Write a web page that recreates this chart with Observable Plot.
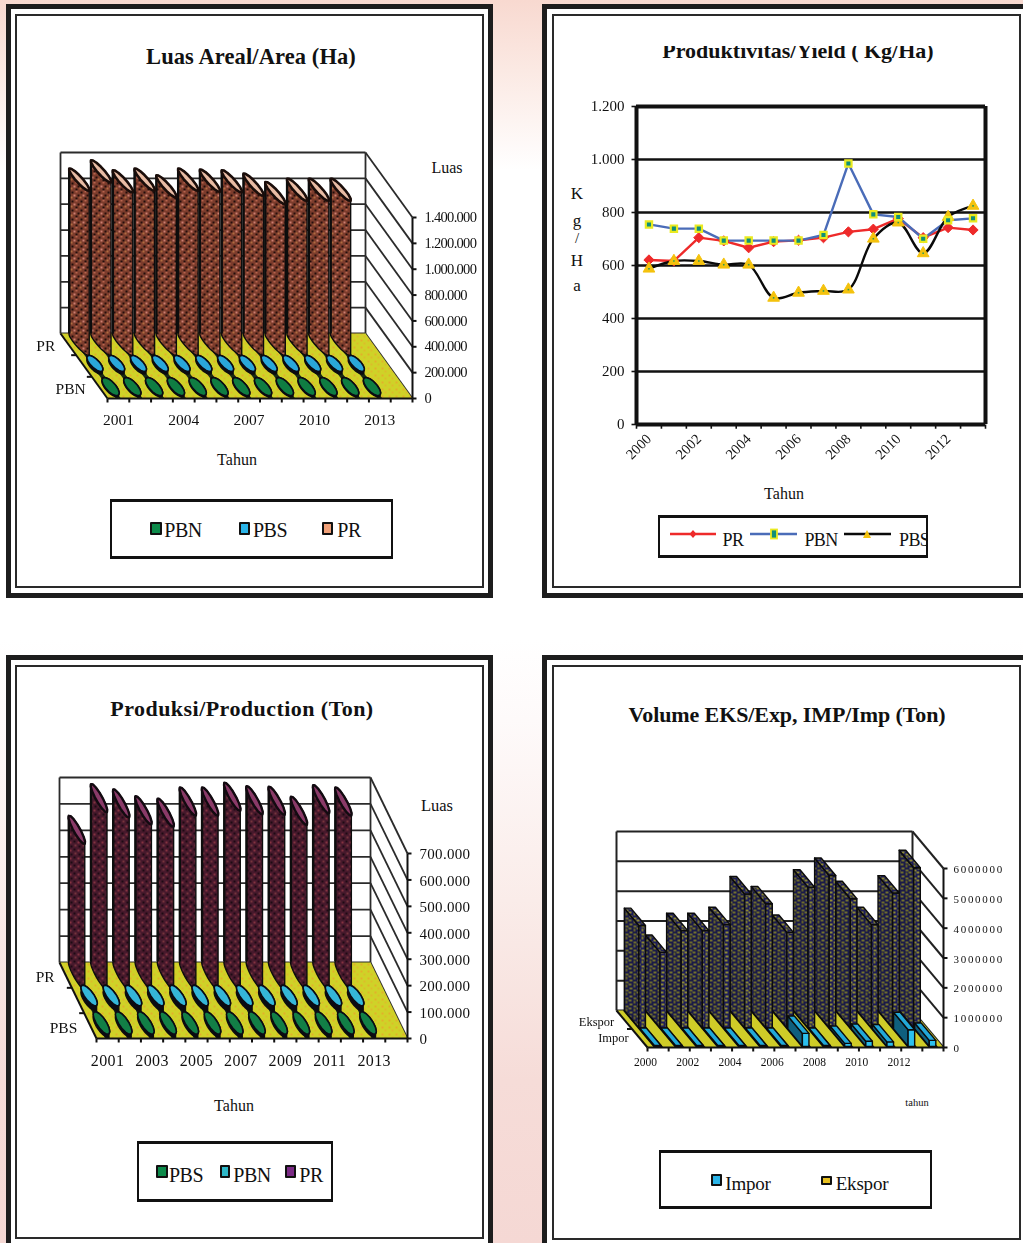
<!DOCTYPE html>
<html><head><meta charset="utf-8">
<script src="https://cdn.jsdelivr.net/npm/d3@7"></script>
<script src="https://cdn.jsdelivr.net/npm/@observablehq/plot@0.6"></script>
<style>
html,body{margin:0;padding:0}
body{position:relative;width:1023px;height:1243px;overflow:hidden;font-family:"Liberation Serif",serif;color:#111;
background:linear-gradient(180deg,#f8d9d0 0,#fbe9e3 70px,#ffffff 170px,#ffffff 640px,#fefafa 720px,#faece9 900px,#f6dcd8 1080px,#f5d8d4 1243px)}
.frame{position:absolute;box-sizing:border-box;background:#fff;border:5px solid #1d1d1d}
.inner{position:absolute;box-sizing:border-box;border:2px solid #2a2a2a}
.t{position:absolute;white-space:pre;transform:translate(-50%,-50%);line-height:1}
.box{position:absolute;box-sizing:border-box;border:2px solid #111;border-top-width:3px;border-bottom-width:3px;background:#fff}
.sw{position:absolute;box-sizing:border-box;border:2.5px solid #111;border-radius:1px}
.hold{position:absolute}
.hold svg{display:block}
.soft svg{filter:blur(.45px)}
</style></head><body>
<svg width="0" height="0" style="position:absolute"><defs>
<pattern id="brown" width="9" height="9" patternUnits="userSpaceOnUse"><rect width="9" height="9" fill="#7c3c2c"/><rect x="1" y="1" width="2" height="2" fill="#220e0c"/><rect x="5" y="0" width="2" height="2" fill="#b8644e"/><rect x="3" y="4" width="2" height="2" fill="#cc7e70"/><rect x="7" y="4" width="2" height="2" fill="#260f0c"/><rect x="0" y="6" width="2" height="2" fill="#b06c40"/><rect x="5" y="7" width="2" height="2" fill="#220e0c"/></pattern>
<pattern id="maroon" width="8" height="8" patternUnits="userSpaceOnUse"><rect width="8" height="8" fill="#47192c"/><rect x="1" y="0" width="2" height="2" fill="#1d0a14"/><rect x="5" y="1" width="2" height="2" fill="#843240"/><rect x="2" y="4" width="2" height="2" fill="#76343c"/><rect x="6" y="5" width="2" height="2" fill="#1d0a14"/></pattern>
<pattern id="navyolive" width="8" height="8" patternUnits="userSpaceOnUse"><rect width="8" height="8" fill="#1c1c58"/><rect x="0" y="0" width="3" height="2" fill="#8c8832"/><rect x="5" y="1" width="2" height="3" fill="#7a7830"/><rect x="1" y="4" width="3" height="2" fill="#908c34"/><rect x="5" y="6" width="3" height="2" fill="#8c8832"/></pattern>
<pattern id="navydark" width="8" height="8" patternUnits="userSpaceOnUse"><rect width="8" height="8" fill="#1a1a48"/><rect x="0" y="0" width="3" height="2" fill="#6e6c2c"/><rect x="5" y="1" width="2" height="3" fill="#625f28"/><rect x="1" y="4" width="3" height="2" fill="#74722e"/><rect x="5" y="6" width="3" height="2" fill="#6e6c2c"/></pattern>
<pattern id="floor" width="7" height="7" patternUnits="userSpaceOnUse"><rect width="7" height="7" fill="#cfd228"/><rect x="1" y="1" width="2" height="2" fill="#e2b02a"/><rect x="4" y="4" width="2" height="2" fill="#dcbc2a"/></pattern>
</defs></svg>
<script>
// ---------- data ----------
const yearsArea = [2001,2002,2003,2004,2005,2006,2007,2008,2009,2010,2011,2012,2013];
const areaPR  = [1274000,1338000,1261000,1274000,1222000,1274000,1266000,1261000,1235000,1170000,1196000,1196000,1196000];
const areaPBS = [20000,20000,20000,20000,20000,20000,20000,20000,20000,20000,20000,20000,20000];
const areaPBN = [8000,8000,8000,8000,8000,8000,8000,8000,8000,8000,8000,8000,8000];
const areaTicks = [0,200000,400000,600000,800000,1000000,1200000,1400000];
const areaYearLabels = [2001,2004,2007,2010,2013];

const yieldYears = [2000,2001,2002,2003,2004,2005,2006,2007,2008,2009,2010,2011,2012,2013];
const yieldPR  = [621,617,705,693,667,690,695,705,727,737,777,705,743,734];
const yieldPBN = [755,739,739,694,694,694,694,715,985,793,783,701,771,778];
const yieldPBS = [588,617,617,603,603,478,497,504,509,701,762,646,783,825];
const yieldTicks = [0,200,400,600,800,1000,1200];
const yieldYearLabels = [2000,2002,2004,2006,2008,2010,2012];

const prodPR  = [550000,670000,650000,624000,615000,657000,657000,675000,662000,660000,622000,666000,657000];
const prodPBN = [19000,19000,19000,19000,19000,19000,19000,19000,19000,19000,19000,19000,19000];
const prodPBS = [11000,11000,11000,11000,11000,11000,11000,11000,11000,11000,11000,11000,11000];
const prodTicks = [0,100000,200000,300000,400000,500000,600000,700000];
const prodYearLabels = [2001,2003,2005,2007,2009,2011,2013];

const tradeYears  = [2000,2001,2002,2003,2004,2005,2006,2007,2008,2009,2010,2011,2012,2013];
const tradeEkspor = [3430000,2530000,3260000,3260000,3460000,4490000,4160000,3200000,4720000,5110000,4330000,3460000,4520000,5370000];
const tradeImpor  = [30000,30000,30000,30000,30000,30000,30000,436000,30000,100000,170000,150000,560000,200000];
const tradeTicks  = [0,1000000,2000000,3000000,4000000,5000000,6000000];
const tradeYearLabels = [2000,2002,2004,2006,2008,2010,2012];

const idFmt = d => d3.format(",")(d).replace(/,/g,".");
const SERIF = "Liberation Serif";
const spaced = s => (i,sc,v,dim,ctx,next) => { const g = next(i,sc,v,dim,ctx); g.style.letterSpacing = s; return g; };

// ---------- page helpers ----------
function el(cls, css, txt){ const d=document.createElement("div"); d.className=cls; Object.assign(d.style,css); if(txt!=null)d.textContent=txt; document.body.appendChild(d); return d; }
function frame(x,y,w,h,ix,iy,iw,ih){ el("frame",{left:x+"px",top:y+"px",width:w+"px",height:h+"px"}); el("inner",{left:ix+"px",top:iy+"px",width:iw+"px",height:ih+"px"}); }
function txt(s,x,y,size,extra){ return el("t",Object.assign({left:x+"px",top:y+"px",fontSize:size+"px"},extra||{}),s); }
function box(x,y,w,h){ el("box",{left:x+"px",top:y+"px",width:w+"px",height:h+"px"}); }
function sw(x,y,w,h,c){ el("sw",{left:x+"px",top:y+"px",width:w+"px",height:h+"px",background:c}); }
function place(left,top,width,height,opts){
  const h=el("hold soft",{left:left+"px",top:top+"px",width:width+"px",height:height+"px"});
  h.appendChild(Plot.plot(Object.assign({width,height,margin:0,style:{background:"transparent",overflow:"visible",maxWidth:"none"}},opts)));
}

// ---------- pseudo-3D helpers (all through the x/y scales) ----------
function geom(g){
  const n=g.n, pxX=n/(g.xR-g.xL), pxY=g.vMax/(g.yB-g.yT);
  const dc=g.dxPx*pxX, dv=g.dyPx*pxY;
  const P=(c,v,d)=>({x:c+d*dc,y:v+d*dv});
  return {n,pxX,pxY,P,
    scales:{x:{axis:null,domain:[0,n],range:[g.xL-g.left,g.xR-g.left]},
            y:{axis:null,domain:[0,g.vMax],range:[g.yB-g.top,g.yT-g.top]}}};
}
const seg=(a,b)=>({x1:a.x,y1:a.y,x2:b.x,y2:b.y});
const link=(data,o)=>Plot.link(data,Object.assign({x1:"x1",y1:"y1",x2:"x2",y2:"y2",stroke:"#2b2b2b",strokeWidth:1.8},o));
const poly=(rows,o)=>Plot.line(rows,Object.assign({x:"x",y:"y",z:"id",curve:"linear-closed"},o));

function shell(G,ticks,rowTicks){
  const {P,n,pxX,pxY}=G;
  const wall=[];
  ticks.forEach(v=>{ wall.push(seg(P(0,v,1),P(n,v,1))); wall.push(seg(P(n,v,1),P(n,v,0))); });
  const vMax=ticks[ticks.length-1];
  wall.push(seg(P(0,0,1),P(0,vMax,1))); wall.push(seg(P(n,0,1),P(n,vMax,1)));
  const floor=[P(0,0,1),P(n,0,1),P(n,0,0),P(0,0,0)].map(p=>({...p,id:"f"}));
  const axis=[seg(P(n,0,0),P(n,vMax,0)),seg(P(0,0,0),P(n,0,0)),seg(P(0,0,0),P(0,0,1))];
  ticks.forEach(v=>axis.push(seg(P(n,v,0),P(n+4*pxX,v,0))));
  d3.range(n+1).forEach(i=>axis.push(seg(P(i,0,0),P(i,-4*pxY,0))));
  rowTicks.forEach(d=>axis.push(seg(P(0,0,d),P(-5*pxX,0,d))));
  return {wall,floor,axis};
}
function ellipseRows(id,c,M,m,from,to,sign,G){
  const out=[]; const N=14;
  for(let k=0;k<=N;k++){ const t=from+(to-from)*k/N;
    out.push({id,x:c.x+(M[0]*Math.cos(t)+sign*m[0]*Math.sin(t))*G.pxX,
                 y:c.y-(M[1]*Math.cos(t)+sign*m[1]*Math.sin(t))*G.pxY}); }
  return out;
}
function cylinders(G,values,depth,M,m,bodyFill,topFill,topStroke,prefix,sw2){
  const body=[],top=[],edge=[];
  values.forEach((v,i)=>{
    const b=G.P(i+.5,0,depth), t=G.P(i+.5,v,depth);
    body.push(...ellipseRows(prefix+i,b,M,m,0,Math.PI,-1,G),...ellipseRows(prefix+i,t,M,m,Math.PI,0,1,G));
    top.push(...ellipseRows(prefix+"t"+i,t,M,m,0,2*Math.PI,1,G));
    edge.push({x1:t.x-M[0]*G.pxX,y1:t.y+M[1]*G.pxY,x2:b.x-M[0]*G.pxX,y2:b.y+M[1]*G.pxY});
  });
  return [
    poly(body,{fill:bodyFill,stroke:"#0d0d0d",strokeWidth:1.4}),
    link(edge,{stroke:"#0d0d0d",strokeWidth:2.4}),
    poly(top,{fill:topFill,stroke:topStroke,strokeWidth:sw2||2.2})
  ];
}
function bands(G,from,to,halfPx,fill){
  const rows=[];
  d3.range(G.n-1).forEach(i=>{ const a=i+.5-halfPx*G.pxX,b=i+.5+halfPx*G.pxX;
    [[a,from],[b,from],[b,to],[a,to]].forEach(q=>rows.push({...G.P(q[0],0,q[1]),id:"b"+i})); });
  return poly(rows,{fill});
}

// ---------- frames ----------
frame(6,4,487,594, 15,14,469,574);
frame(542,4,500,594, 552,14,469,574);
frame(6,655,487,620, 15,665,469,574);
frame(542,655,500,620, 552,665,469,575);

// ---------- Panel 1: Luas Areal ----------
{
  const g={left:16,top:100,n:14,vMax:1400000,xL:107,xR:412,yB:398,yT:217,dxPx:-47,dyPx:65};
  const G=geom(g), S=shell(G,areaTicks,[1/3,2/3]);
  place(g.left,g.top,466,350,{...G.scales,marks:[
    link(S.wall),
    poly(S.floor,{fill:"url(#floor)"}),
    bands(G,0,.72,2.5,"#1a2a14"),
    ...cylinders(G,areaPR,5/6,[10,11],[2.2,-2.2],"url(#brown)","#e9bca4","#1a0d0a","a",2.6),
    ...cylinders(G,areaPBS,1/2,[7.5,7.5],[3,-3],"#0b0b14","#2aa7da","#0b0b14","b",1.6),
    ...cylinders(G,areaPBN,1/6,[8,8.5],[3.4,-3.4],"#0b0b14","#0f7d42","#0b0b14","c",1.6),
    link(S.axis,{stroke:"#111",strokeWidth:2}),
    Plot.text(areaTicks,{x:14,y:d=>d,text:idFmt,dx:12,textAnchor:"start",fontFamily:SERIF,fontSize:14.5,fill:"#111",render:spaced("-0.7px")}),
    Plot.text(areaYearLabels,{x:d=>d-2001+.5,y:0,dy:22,text:d=>String(d),fontFamily:SERIF,fontSize:15.5,fill:"#111"}),
    Plot.text([{t:"PR",d:5/6}],{x:d=>G.P(0,0,d.d).x,y:d=>G.P(0,0,d.d).y,text:"t",dx:-13,dy:2,textAnchor:"end",fontFamily:SERIF,fontSize:15.5,fill:"#111"}),
    Plot.text([{t:"PBN",d:1/6}],{x:d=>G.P(0,0,d.d).x,y:d=>G.P(0,0,d.d).y,text:"t",dx:-14,dy:1,textAnchor:"end",fontFamily:SERIF,fontSize:15.5,fill:"#111"})
  ]});
  txt("Luas Areal/Area (Ha)",251,57,22.5,{fontWeight:"bold",letterSpacing:".1px"});
  txt("Luas",447,168,16); txt("Tahun",237,460,16);
  box(110,499,283,60);
  sw(150,522,12,13,"#0c8a4a"); txt("PBN",183,530,20,{letterSpacing:"-.5px"});
  sw(239,522,11,13,"#2ab4e8"); txt("PBS",270,530,20,{letterSpacing:"-.5px"});
  sw(322,522,11,13,"#f0a078"); txt("PR",349,530,20,{letterSpacing:"-.5px"});
}

// ---------- Panel 2: Yield ----------
{
  const left=552, top=90, rows=s=>yieldYears.map((y,i)=>({i:i+.5,v:s[i]}));
  const sc={x:{axis:null,domain:[0,14],range:[636-left,985-left]},y:{axis:null,domain:[0,1200],range:[424-top,106-top]}};
  place(left,top,468,390,{...sc,marks:[
    Plot.ruleY(yieldTicks.slice(1,-1),{y:d=>d,x1:0,x2:14,stroke:"#111",strokeWidth:2.4}),
    Plot.line(rows(yieldPR),{x:"i",y:"v",stroke:"#ee2a2a",strokeWidth:2.4}),
    Plot.line(rows(yieldPBN),{x:"i",y:"v",stroke:"#4a6cb8",strokeWidth:2.4}),
    Plot.line(rows(yieldPBS),{x:"i",y:"v",stroke:"#0a0a0a",strokeWidth:2.4,curve:"catmull-rom"}),
    Plot.dot(rows(yieldPR),{x:"i",y:"v",symbol:"diamond2",r:4.6,fill:"#ee2a2a",stroke:"#ee2a2a",strokeWidth:1}),
    Plot.dot(rows(yieldPBS),{x:"i",y:"v",symbol:"triangle2",r:5.6,fill:"#f4c20d",stroke:"#f4c20d",strokeWidth:1}),
    Plot.dot(rows(yieldPBS),{x:"i",y:"v",symbol:"square2",r:1,fill:"#2f9a55"}),
    Plot.dot(rows(yieldPBN),{x:"i",y:"v",symbol:"square2",r:4,fill:"#0f8f78",stroke:"#eaea20",strokeWidth:2.2}),
    Plot.ruleY([0,1200],{y:d=>d,x1:0,x2:14,stroke:"#111",strokeWidth:4}),
    Plot.ruleX([0,14],{x:d=>d,y1:0,y2:1200,stroke:"#111",strokeWidth:4}),
    Plot.link(yieldTicks,{x1:-.2,x2:0,y1:d=>d,y2:d=>d,stroke:"#111",strokeWidth:1.6}),
    Plot.link(d3.range(15),{x1:d=>d,x2:d=>d,y1:0,y2:-16,stroke:"#111",strokeWidth:1.6}),
    Plot.text(yieldTicks,{x:0,y:d=>d,text:idFmt,dx:-12,textAnchor:"end",fontFamily:SERIF,fontSize:15,fill:"#111"}),
    Plot.text(yieldYearLabels,{x:d=>d-2000+.5,y:0,dy:12,text:d=>String(d),rotate:-45,textAnchor:"end",fontFamily:SERIF,fontSize:14.5,fill:"#111"})
  ]});
  const clip=el("hold",{left:"600px",top:"46px",width:"396px",height:"18px",overflow:"hidden"});
  const tt=document.createElement("div"); tt.textContent="Produktivitas/Yield ( Kg/Ha)";
  Object.assign(tt.style,{position:"absolute",left:"0",width:"396px",top:"-6px",textAlign:"center",fontSize:"22px",fontWeight:"bold",lineHeight:"1",whiteSpace:"pre"});
  clip.appendChild(tt);
  [["K",193,17],["g",220,17],["/",238,15],["H",260,17],["a",285,17]].forEach(a=>txt(a[0],577,a[1],a[2]));
  txt("Tahun",784,494,16);
  box(658,515,270,43);
  const ln=el("hold",{left:"658px",top:"515px",width:"270px",height:"43px"});
  ln.innerHTML=`<svg width="270" height="43">
   <line x1="12" x2="58" y1="19" y2="19" stroke="#ee2a2a" stroke-width="2.4"/><path d="M35 15l3.5 4-3.5 4-3.5-4z" fill="#ee2a2a"/>
   <line x1="92" x2="139" y1="19" y2="19" stroke="#4a6cb8" stroke-width="2.4"/><rect x="113" y="14.5" width="6" height="9" fill="#0f8f78" stroke="#eaea20" stroke-width="1.8"/>
   <line x1="186" x2="233" y1="19" y2="19" stroke="#0a0a0a" stroke-width="2.4"/><path d="M209 15l4 8h-8z" fill="#f4c20d"/></svg>`;
  txt("PR",733,540,18,{letterSpacing:"-.6px"});
  txt("PBN",821,540,18,{letterSpacing:"-.6px"});
  const pbs=el("hold",{left:"890px",top:"530px",width:"38px",height:"20px",overflow:"hidden",fontSize:"18px",lineHeight:"20px",letterSpacing:"-.6px",paddingLeft:"9px",boxSizing:"border-box"}); pbs.textContent="PBS";
}

// ---------- Panel 3: Produksi ----------
{
  const g={left:16,top:752,n:14,vMax:700000,xL:96,xR:407,yB:1038,yT:853,dxPx:-37,dyPx:76};
  const G=geom(g), S=shell(G,prodTicks,[1/3,2/3]);
  place(g.left,g.top,456,340,{...G.scales,marks:[
    link(S.wall),
    poly(S.floor,{fill:"url(#floor)"}),
    bands(G,0,.72,2.5,"#13261a"),
    ...cylinders(G,prodPR,5/6,[8,14],[2.4,-2.4],"url(#maroon)","#8a3a68","#120a10","p",2.4),
    ...cylinders(G,prodPBN,1/2,[7.5,10],[3.4,-2.8],"#0b0b14","#35b6d8","#0b0b14","q",1.6),
    ...cylinders(G,prodPBS,1/6,[7.5,11],[3.6,-3],"#0b0b14","#127f46","#0b0b14","r",1.6),
    link(S.axis,{stroke:"#111",strokeWidth:2}),
    Plot.text(prodTicks,{x:14,y:d=>d,text:idFmt,dx:12,dy:1,textAnchor:"start",fontFamily:SERIF,fontSize:15,fill:"#111",render:spaced(".3px")}),
    Plot.text(prodYearLabels,{x:d=>d-2001+.5,y:0,dy:22,text:d=>String(d),fontFamily:SERIF,fontSize:16,fill:"#111",render:spaced(".4px")}),
    Plot.text([{t:"PR",d:5/6}],{x:d=>G.P(0,0,d.d).x,y:d=>G.P(0,0,d.d).y,text:"t",dx:-11,dy:2,textAnchor:"end",fontFamily:SERIF,fontSize:15.5,fill:"#111"}),
    Plot.text([{t:"PBS",d:1/6}],{x:d=>G.P(0,0,d.d).x,y:d=>G.P(0,0,d.d).y,text:"t",dx:-13,dy:2,textAnchor:"end",fontFamily:SERIF,fontSize:15.5,fill:"#111"})
  ]});
  txt("Produksi/Production (Ton)",242,709,22,{fontWeight:"bold",letterSpacing:".45px"});
  txt("Luas",437,806,16.5); txt("Tahun",234,1106,16);
  box(137,1141,196,61);
  sw(156,1165,12,13,"#0c8a4a"); txt("PBS",186,1175,20,{letterSpacing:"-.5px"});
  sw(220,1165,10,13,"#2fb8c8"); txt("PBN",252,1175,20,{letterSpacing:"-.5px"});
  sw(285,1165,11,13,"#7b2a85"); txt("PR",311,1175,20,{letterSpacing:"-.5px"});
}

// ---------- Panel 4: Volume ----------
{
  const g={left:556,top:815,n:14,vMax:6000000,xL:647,xR:943,yB:1047,yT:868,dxPx:-31,dyPx:37};
  const G=geom(g), S=shell(G,tradeTicks,[.5]);
  const x0=.37,x1=.68;
  function boxes(values,d0,d1,left,front,top,pre){
    const L=[],F=[],T=[];
    values.forEach((v,i)=>{ const a=i+x0,b=i+x1;
      [[a,0,d0],[a,0,d1],[a,v,d1],[a,v,d0]].forEach(q=>L.push({...G.P(...q),id:pre+"l"+i}));
      [[a,0,d0],[b,0,d0],[b,v,d0],[a,v,d0]].forEach(q=>F.push({...G.P(...q),id:pre+"f"+i}));
      [[a,v,d0],[b,v,d0],[b,v,d1],[a,v,d1]].forEach(q=>T.push({...G.P(...q),id:pre+"t"+i}));
    });
    return [poly(L,{fill:left,stroke:"#0b0b0b",strokeWidth:1.4}),
            poly(F,{fill:front,stroke:"#0b0b0b",strokeWidth:1.4}),
            poly(T,{fill:top,stroke:"#0b0b0b",strokeWidth:1.4})];
  }
  const shadow=[];
  tradeYears.forEach((y,i)=>[[i+.3,0],[i+.76,0],[i+.76,1],[i+.3,1]].forEach(q=>shadow.push({...G.P(q[0],0,q[1]),id:"s"+i})));
  place(g.left,g.top,464,300,{...G.scales,marks:[
    link(S.wall,{strokeWidth:2,stroke:"#222"}),
    poly(S.floor,{fill:"#cfcc28"}),
    poly(shadow,{fill:"#101010"}),
    ...boxes(tradeEkspor,.53,1,"url(#navydark)","url(#navyolive)","url(#navyolive)","e"),
    ...boxes(tradeImpor,.03,.5,"#0f5f7e","#2cc0ee","#22a8d8","i"),
    link(S.axis,{stroke:"#111",strokeWidth:2}),
    Plot.text(tradeTicks,{x:14,y:d=>d,text:d=>String(d),dx:10,dy:1,textAnchor:"start",fontFamily:SERIF,fontSize:11,fill:"#111",render:spaced("1.7px")}),
    Plot.text(tradeYearLabels,{x:d=>d-2000-.1,y:0,dy:15,text:d=>String(d),fontFamily:SERIF,fontSize:11.5,fill:"#111"}),
    Plot.text([{t:"Ekspor",d:.75}],{x:d=>G.P(0,0,d.d).x,y:d=>G.P(0,0,d.d).y,text:"t",dx:-10,dy:2,textAnchor:"end",fontFamily:SERIF,fontSize:12.5,fill:"#111"}),
    Plot.text([{t:"Impor",d:.25}],{x:d=>G.P(0,0,d.d).x,y:d=>G.P(0,0,d.d).y,text:"t",dx:-11,dy:0,textAnchor:"end",fontFamily:SERIF,fontSize:12.5,fill:"#111"})
  ]});
  txt("Volume EKS/Exp, IMP/Imp (Ton)",787,715,22,{fontWeight:"bold",letterSpacing:"-.1px"});
  txt("tahun",917,1103,10.5);
  box(659,1150,273,59);
  sw(711,1174,11,12,"#2ab4e8"); txt("Impor",748,1183,19,{letterSpacing:"-.2px"});
  sw(821,1176,11,9,"#e8c020"); txt("Ekspor",862,1183,19,{letterSpacing:"-.2px"});
}
</script>
</body></html>
